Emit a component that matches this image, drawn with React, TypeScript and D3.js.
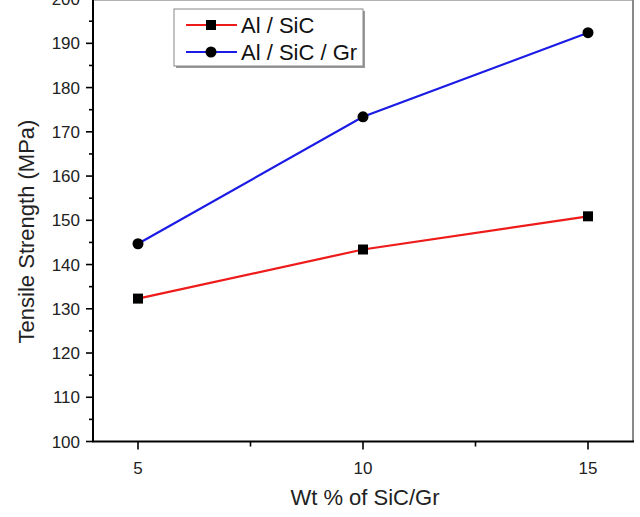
import React from "react";
import * as d3 from "d3";

const wtPercent = [5, 10, 15];
const alSiC = [132.3, 143.4, 150.9];
const alSiCGr = [144.7, 173.4, 192.4];
const seriesNames = ["Al / SiC", "Al / SiC / Gr"];
const xTicks = [5, 10, 15];
const xMinorTicks = [7.5, 12.5];
const yTicks = [100, 110, 120, 130, 140, 150, 160, 170, 180, 190, 200];
const yMinorTicks = [105, 115, 125, 135, 145, 155, 165, 175, 185, 195];

const W = 640;
const H = 517;
const FONT = "'Liberation Sans', Arial, sans-serif";
const RED = "#ee1b1b";
const BLUE = "#1b1be6";

export default function App() {
  const x = d3.scaleLinear().domain([4, 16]).range([93, 633]);
  const y = d3.scaleLinear().domain([100, 200]).range([441.5, -0.9]);
  const line = d3
    .line<number>()
    .x((_, i) => x(wtPercent[i]))
    .y((d) => y(d));

  const left = x(4);
  const right = x(16);
  const top = y(200);
  const bottom = y(100);

  const legX = 174;
  const legY = 9;
  const legW = 189;
  const legH = 57;

  return (
    <svg
      width={W}
      height={H}
      style={{ position: "fixed", left: 0, top: 0, background: "#fff" }}
      fontFamily={FONT}
    >
      <rect x={0} y={0} width={W} height={H} fill="#fff" />
      {/* frame top/right */}
      <line x1={left} x2={right} y1={top + 0.5} y2={top + 0.5} stroke="#666" strokeWidth={2} />
      <line x1={right} x2={right} y1={top} y2={bottom} stroke="#888" strokeWidth={2} />

      {/* y ticks */}
      {yTicks.map((t) => (
        <g key={"yt" + t}>
          <line x1={left - 7} x2={left} y1={y(t)} y2={y(t)} stroke="#000" strokeWidth={1.6} />
          <text x={80} y={y(t)} dy="0.36em" textAnchor="end" fontSize={17} fill="#222">
            {t}
          </text>
        </g>
      ))}
      {yMinorTicks.map((t) => (
        <line key={"ym" + t} x1={left - 4} x2={left} y1={y(t)} y2={y(t)} stroke="#000" strokeWidth={1.6} />
      ))}

      {/* x ticks */}
      {xTicks.map((t) => (
        <g key={"xt" + t}>
          <line x1={x(t)} x2={x(t)} y1={bottom} y2={bottom + 8} stroke="#000" strokeWidth={1.6} />
          <text x={x(t)} y={474} textAnchor="middle" fontSize={17} fill="#222">
            {t}
          </text>
        </g>
      ))}
      {xMinorTicks.map((t) => (
        <line key={"xm" + t} x1={x(t)} x2={x(t)} y1={bottom} y2={bottom + 5} stroke="#000" strokeWidth={1.6} />
      ))}

      {/* axes */}
      <line x1={left} x2={left} y1={top} y2={bottom} stroke="#000" strokeWidth={2} />
      <line x1={left - 1} x2={right + 1} y1={bottom} y2={bottom} stroke="#000" strokeWidth={2} />

      {/* axis titles */}
      <text x={365} y={505} textAnchor="middle" fontSize={22} fill="#222">
        Wt % of SiC/Gr
      </text>
      <text
        transform={`translate(34, 231.5) rotate(-90)`}
        textAnchor="middle"
        fontSize={22}
        fill="#222"
      >
        Tensile Strength (MPa)
      </text>

      {/* series */}
      <path d={line(alSiC) || ""} fill="none" stroke={RED} strokeWidth={2.2} />
      <path d={line(alSiCGr) || ""} fill="none" stroke={BLUE} strokeWidth={2.2} />
      {alSiC.map((v, i) => (
        <rect key={"s" + i} x={x(wtPercent[i]) - 5} y={y(v) - 5} width={10} height={10} fill="#000" />
      ))}
      {alSiCGr.map((v, i) => (
        <circle key={"c" + i} cx={x(wtPercent[i])} cy={y(v)} r={5.5} fill="#000" />
      ))}

      {/* legend */}
      <rect x={legX + 2} y={legY + 2} width={legW} height={legH} fill="#999" />
      <rect x={legX} y={legY} width={legW} height={legH} fill="#fff" stroke="#888" strokeWidth={1} />
      {seriesNames.map((name, i) => {
        const ly = legY + 16 + i * 27;
        const color = i === 0 ? RED : BLUE;
        return (
          <g key={name}>
            <line x1={186} x2={237} y1={ly} y2={ly} stroke={color} strokeWidth={2.2} />
            {i === 0 ? (
              <rect x={211 - 5} y={ly - 5} width={10} height={10} fill="#000" />
            ) : (
              <circle cx={211} cy={ly} r={5.5} fill="#000" />
            )}
            <text x={241} y={ly} dy="0.36em" fontSize={22} fill="#111">
              {name}
            </text>
          </g>
        );
      })}
    </svg>
  );
}
